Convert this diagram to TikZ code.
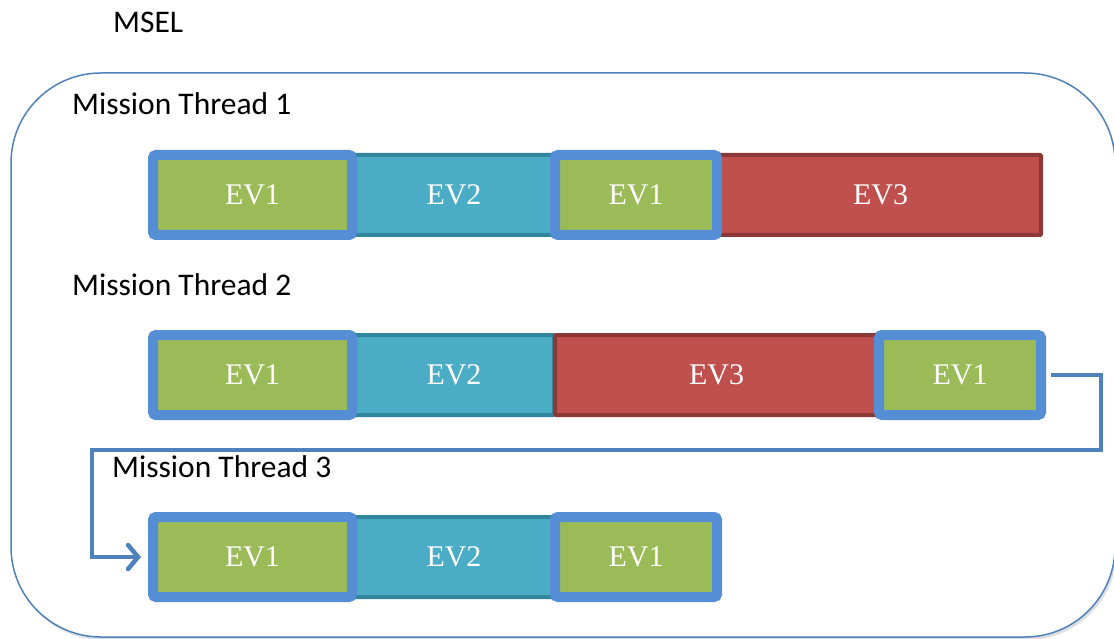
\documentclass[tikz,border=0pt]{standalone}
\usepackage{fontspec}
\setmainfont{Liberation Serif}
\newfontfamily\calibri{Carlito}
\usepackage{tikz}
\usetikzlibrary{arrows.meta,shadows}
\definecolor{frameblue}{RGB}{79,129,189}
\definecolor{boxblue}{RGB}{85,142,213}
\definecolor{evgreen}{RGB}{155,187,89}
\definecolor{evcyan}{RGB}{75,172,198}
\definecolor{evcyandark}{RGB}{49,133,156}
\definecolor{evred}{RGB}{192,80,77}
\definecolor{evreddark}{RGB}{140,56,54}

\begin{document}
\begin{tikzpicture}[x=1pt, y=-1pt,
    evbox/.style={minimum height=80pt, inner sep=0pt, text=white, font=\fontsize{30}{32}\selectfont},
    evone/.style={evbox, fill=evgreen, draw=boxblue, line width=10pt, rounded corners=3pt},
    evtwo/.style={evbox, fill=evcyan, draw=evcyandark, line width=4pt, rounded corners=1pt},
    evthree/.style={evbox, fill=evred, draw=evreddark, line width=4pt, rounded corners=1pt},
    threadname/.style={anchor=west, inner sep=0pt, font=\calibri\fontsize{31.5}{34}\selectfont},
    link/.style={frameblue, line width=4.5pt, -{Straight Barb[length=10pt, width=24pt, line cap=round]}}]
    \clip (0,0) rectangle (1114,639);

    % Outer frame
    \node[threadname] (msel) at (113,22) {MSEL};
    \draw[frameblue, line width=1.5pt, fill=white, rounded corners=90pt,
          drop shadow={shadow xshift=2pt, shadow yshift=-3pt, opacity=0.25, fill=black!50}]
          (11,73) rectangle (1115,637);

    % Thread titles
    \node[threadname] (mt1) at (72,104) {Mission Thread 1};
    \node[threadname] (mt2) at (72,285) {Mission Thread 2};
    \node[threadname] (mt3) at (112,467) {Mission Thread 3};

    % Plain events
    \foreach \nm/\x/\y/\w/\st/\txt in {
        r1b/454/195/200/evtwo/EV2,
        r1d/880.5/195/321/evthree/EV3,
        r2b/454/375/200/evtwo/EV2,
        r2c/716.5/375/323/evthree/EV3,
        r3b/454/557/200/evtwo/EV2%
    } {
        \node[\st, minimum width=\w pt] (\nm) at (\x,\y) {\txt};
    }

    % EV1 events with blue frame
    \foreach \nm/\x/\y/\w in {
        r1a/252.5/195/199,
        r1c/636/195/162,
        r2a/252.5/375/199,
        r2d/960/375/162,
        r3a/252.5/557/199,
        r3c/636/557/162%
    } {
        \node[evone, minimum width=\w pt] (\nm) at (\x,\y) {EV1};
    }

    % Hand-over from thread 2 to thread 3
    \coordinate (bendR) at (1101,450);
    \coordinate (bendL) at (92,557);
    \draw[link, shorten <=5pt, shorten >=7pt] (r2d.east) -| (bendR) -| (bendL) -- (r3a.west);
\end{tikzpicture}
\end{document}
